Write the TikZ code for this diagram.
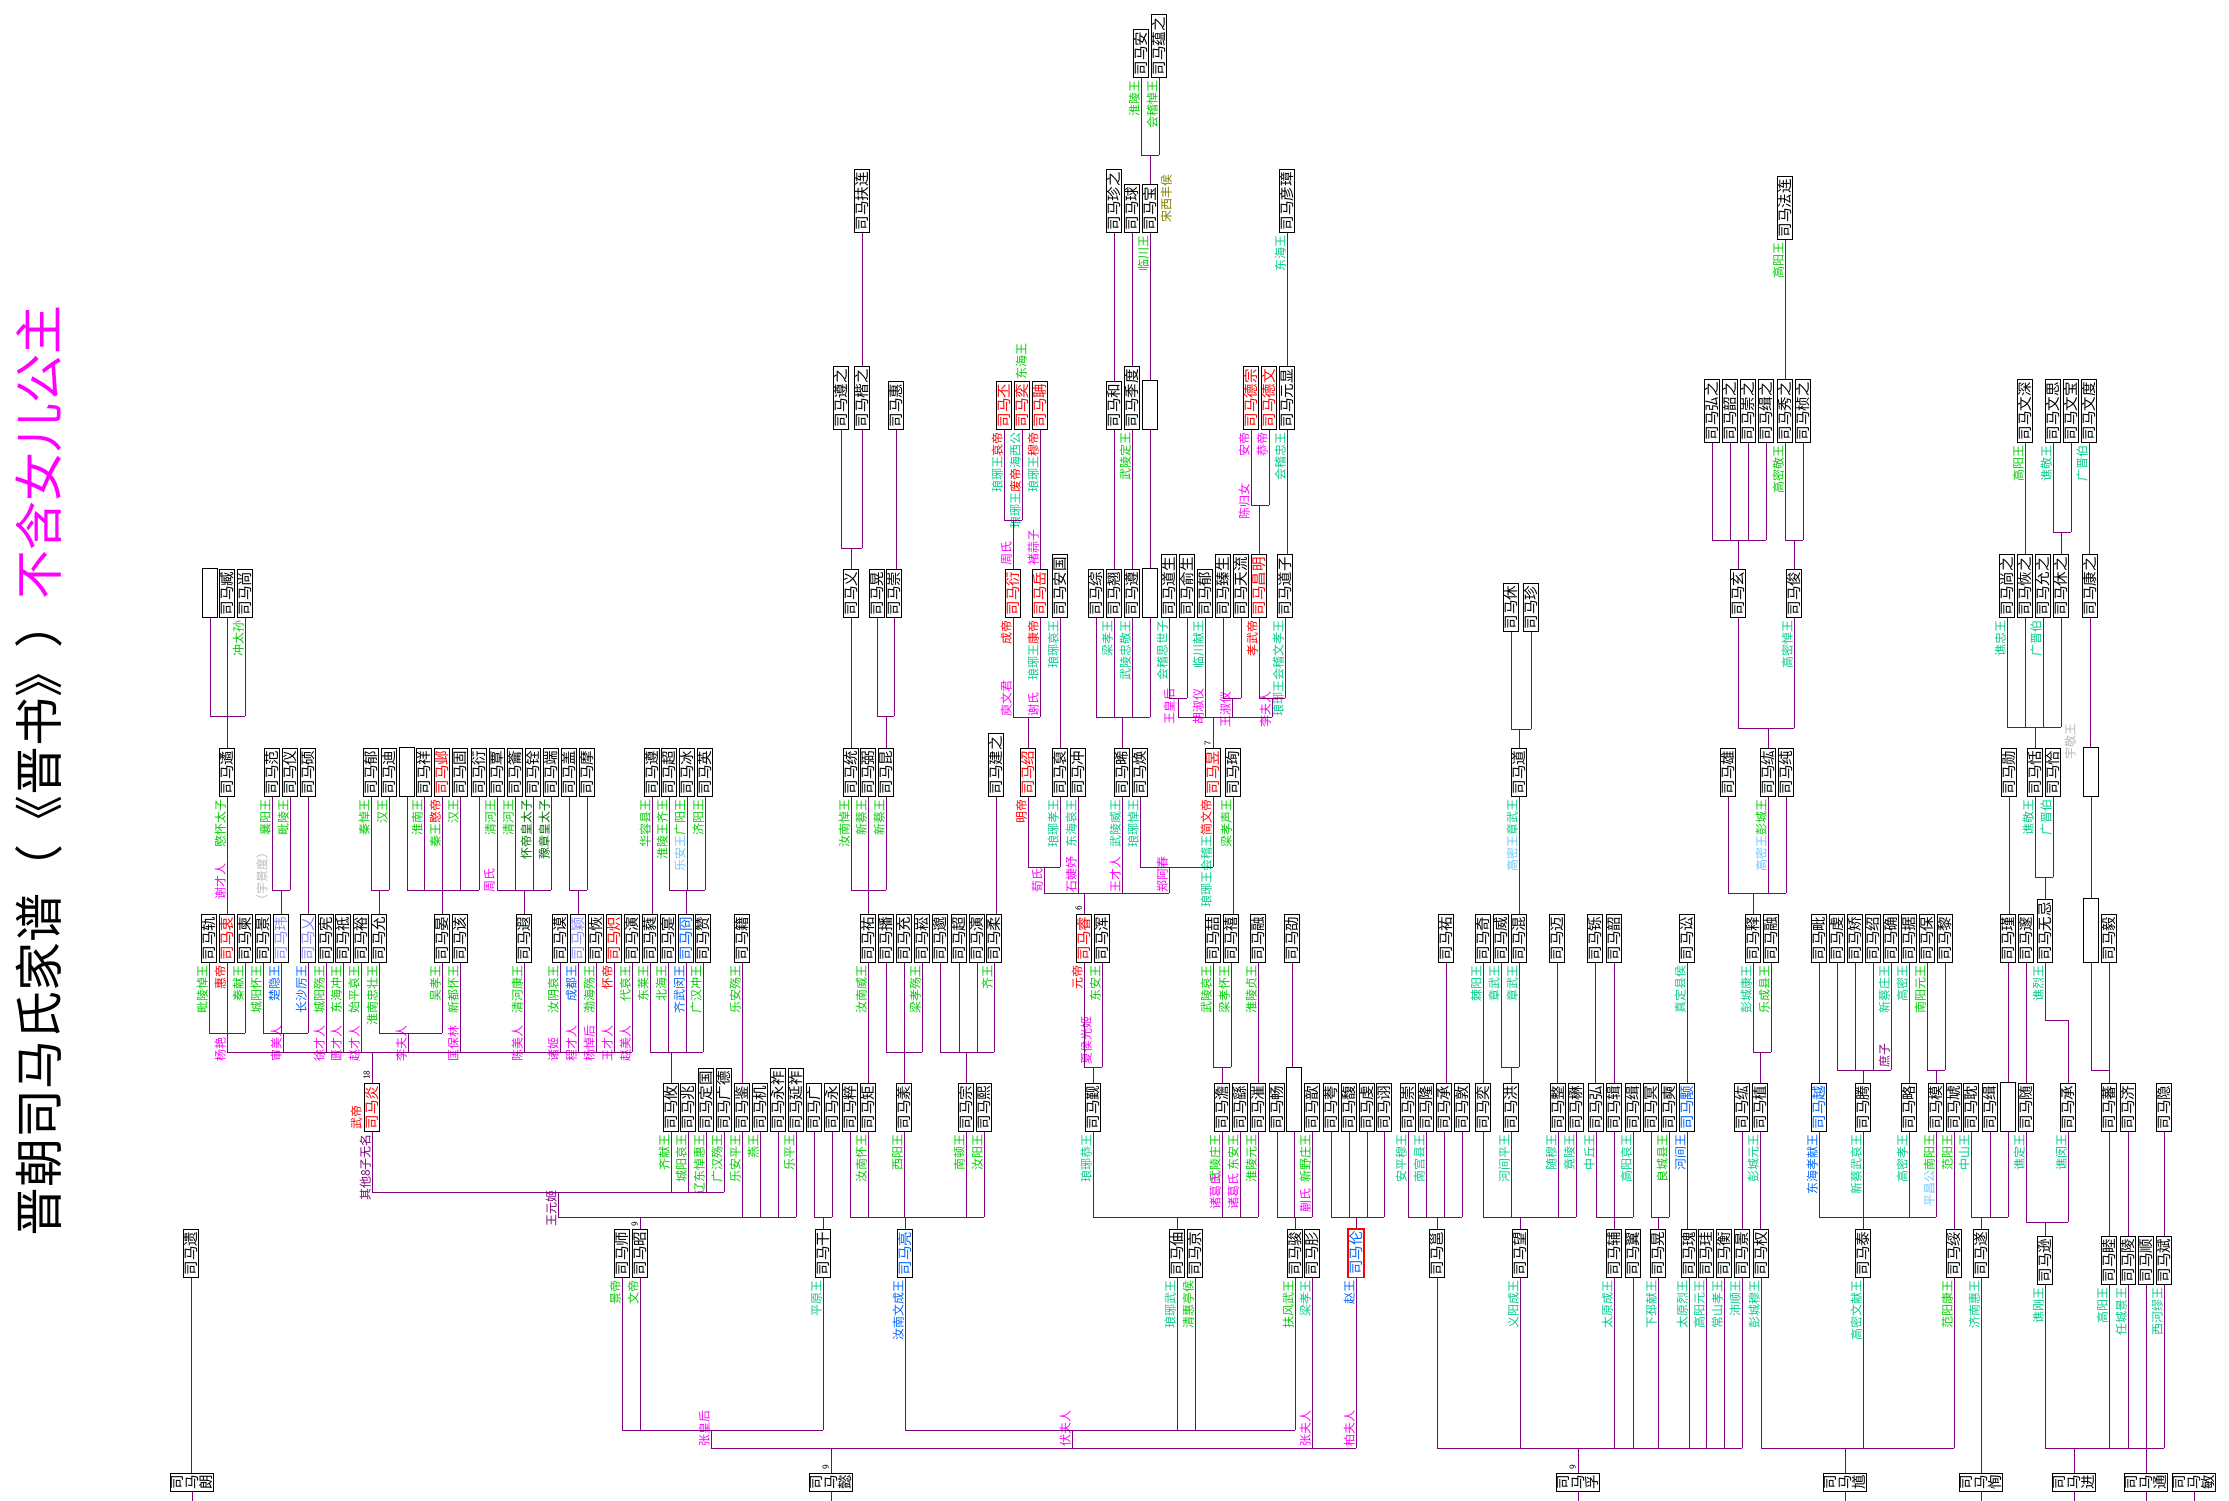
\documentclass[tikz,border=0pt]{standalone}
\usepackage{fontspec}
\newfontfamily\cjk{Noto Sans CJK SC}
\definecolor{lg}{RGB}{0,204,0}
\definecolor{tq}{RGB}{0,204,136}
\definecolor{bl}{RGB}{0,102,255}
\definecolor{rd}{RGB}{255,0,0}
\definecolor{mg}{RGB}{255,0,255}
\definecolor{pu}{RGB}{128,0,128}
\definecolor{lb}{RGB}{110,200,255}
\definecolor{gy}{RGB}{185,185,185}
\definecolor{ol}{RGB}{128,128,0}
\definecolor{dg}{RGB}{0,110,0}
\definecolor{lp}{RGB}{140,140,255}
\newcounter{lc}
\tikzset{
 nm/.style={draw=black,line width=0.9pt,fill=white,rotate=90,anchor=west,inner xsep=2.5pt,inner ysep=0.5pt,text height=12.4pt,text depth=2.4pt,font=\cjk\fontsize{14.5}{14.5}\selectfont},
 root/.style={draw=black,line width=0.9pt,fill=white,rotate=90,anchor=east,align=center,inner xsep=1.5pt,inner ysep=0.5pt,font=\cjk\fontsize{14.5}{14.5}\selectfont},
 lab/.style={rotate=90,anchor=south east,inner sep=0pt,font=\cjk\fontsize{12}{12}\selectfont},
 ln/.style={draw=pu,line width=1pt}
}
\newcommand\nb[4][black]{\node[nm,text=#1] (#2) at #3 {司马#4};}
\newcommand\eb[3]{\node[nm,minimum width=#3] (#1) at #2 {};}
\newcommand\lab[3]{\stepcounter{lc}\node[lab,text=#2] (lab\arabic{lc}) at ([xshift=-1pt,yshift=-2pt]#1.west) {#3};}
\newcommand\spl[4]{\stepcounter{lc}\node[lab,anchor=south west,text=#1] (lab\arabic{lc}) at (#2,#3) {#4};}
\newcommand\nlab[3]{\stepcounter{lc}\node[rotate=90,anchor=south west,inner sep=0pt,font=\sffamily\fontsize{9}{9}\selectfont] (lab\arabic{lc}) at (#1,#2) {#3};}
\newcommand\drops[2]{\foreach \q in {#2}{\draw[ln] (\q.west) -- (\q.west |- 0,#1);}}
\newcommand\hl[3]{\draw[ln] (#1.west |- 0,#3) -- (#2.west |- 0,#3);}
\newcommand\up[2]{\draw[ln] (#1.east |- 0,#2) -- (#1.east);}
\newcommand\stl[2]{\draw[ln] (#1.west) -- (#1.west |- #2.east);}
\begin{document}
\begin{tikzpicture}[x=1pt,y=-1pt]
\fill[white] (0,0) rectangle (2229,1500);
\path[use as bounding box] (0,0) rectangle (2229,1500);
% title
\node[rotate=90,anchor=west,inner sep=0pt,font=\cjk\fontsize{49}{49}\selectfont] (title) at (39,1237) {晋朝司马氏家谱（《晋书》）\textcolor{mg}{不含女儿公主}};
% roots
\node[root] (r1) at (192,1473) {司\\马\\朗};
\node[root] (r2) at (831,1473) {司\\马\\懿};
\node[root] (r3) at (1578,1473) {司\\马\\孚};
\node[root] (r4) at (1845,1473) {司\\马\\馗};
\node[root] (r5) at (1981,1473) {司\\马\\恂};
\node[root] (r6) at (2074,1473) {司\\马\\进};
\node[root] (r7) at (2146,1473) {司\\马\\通};
\node[root] (r8) at (2194,1473) {司\\马\\敏};
% row 1
\nb{a1}{(191,1278)}{遗}
\nb{a2}{(622,1278)}{师} \lab{a2}{lg}{景帝}
\nb{a3}{(640,1278)}{昭} \lab{a3}{lg}{文帝}
\nb{a4}{(823,1278)}{干} \lab{a4}{tq}{平原王}
\nb[bl]{a5}{(905,1278)}{亮} \lab{a5}{bl}{汝南文成王}
\nb{a6}{(1177,1278)}{伷} \lab{a6}{tq}{琅琊武王}
\nb{a7}{(1195,1278)}{京} \lab{a7}{lg}{清惠亭侯}
\nb{a8}{(1295,1278)}{骏} \lab{a8}{lg}{扶风武王}
\nb{a9}{(1312,1278)}{肜} \lab{a9}{tq}{梁孝王}
\node[nm,text=bl,draw=rd,line width=1.3pt] (a10) at (1356,1278) {司马伦}; \lab{a10}{bl}{赵王}
\nb{a11}{(1437,1278)}{邕}
\nb{a12}{(1520,1278)}{望} \lab{a12}{tq}{义阳成王}
\nb{a13}{(1614,1278)}{辅} \lab{a13}{tq}{太原成王}
\nb{a14}{(1633,1278)}{翼}
\nb{a15}{(1658,1278)}{晃} \lab{a15}{tq}{下邳献王}
\nb{a16}{(1689,1278)}{瑰} \lab{a16}{tq}{太原烈王}
\nb{a17}{(1706,1278)}{珪} \lab{a17}{tq}{高阳元王}
\nb{a18}{(1724,1278)}{衡} \lab{a18}{tq}{常山孝王}
\nb{a19}{(1742,1278)}{景} \lab{a19}{tq}{沛顺王}
\nb{a20}{(1761,1278)}{权} \lab{a20}{tq}{彭城穆王}
\nb{a21}{(1863,1278)}{泰} \lab{a21}{tq}{高密文献王}
\nb{a22}{(1954,1278)}{绥} \lab{a22}{lg}{范阳康王}
\nb{a23}{(1981,1278)}{遂} \lab{a23}{tq}{济南惠王}
\nb{a24}{(2045,1285)}{逊} \lab{a24}{tq}{谯刚王}
\nb{a25}{(2109,1285)}{睦} \lab{a25}{tq}{高阳王}
\nb{a26}{(2128,1285)}{陵} \lab{a26}{tq}{任城景王}
\nb{a27}{(2146,1285)}{顺}
\nb{a28}{(2164,1285)}{斌} \lab{a28}{tq}{西河缪王}
% row 2
\nb[rd]{b1}{(372,1132)}{炎} \lab{b1}{pu}{其他8子无名}
\spl{rd}{362}{1130}{武帝}
\nb{b2}{(671,1132)}{攸} \lab{b2}{lg}{齐献王}
\nb{b3}{(688,1132)}{兆} \lab{b3}{lg}{城阳哀王}
\nb{b4}{(706,1132)}{定国} \lab{b4}{lg}{辽东悼惠王}
\nb{b5}{(724,1132)}{广德} \lab{b5}{lg}{广汉殇王}
\nb{b6}{(742,1132)}{鉴} \lab{b6}{lg}{乐安平王}
\nb{b7}{(760,1132)}{机} \lab{b7}{lg}{燕王}
\nb{b8}{(778,1132)}{永祚}
\nb{b9}{(796,1132)}{延祚} \lab{b9}{lg}{乐平王}
\nb{b10}{(814,1132)}{广}
\nb{b11}{(832,1132)}{永}
\nb{b12}{(850,1132)}{粹}
\nb{b13}{(868,1132)}{矩} \lab{b13}{lg}{汝南怀王}
\nb{b14}{(904,1132)}{羕} \lab{b14}{lg}{西阳王}
\nb{b15}{(966,1132)}{宗} \lab{b15}{lg}{南顿王}
\nb{b16}{(984,1132)}{熙} \lab{b16}{lg}{汝阳王}
\nb{b17}{(1093,1132)}{觐} \lab{b17}{tq}{琅琊恭王}
\nb{b18}{(1222,1132)}{澹} \lab{b18}{lg}{武陵庄王}
\nb{b19}{(1240,1132)}{繇} \lab{b19}{lg}{东安王}
\nb{b20}{(1258,1132)}{漼} \lab{b20}{lg}{淮陵元王}
\nb{b21}{(1277,1132)}{畅}
\eb{b22}{(1294,1132)}{64pt}
\nb{b23}{(1312,1132)}{歆} \lab{b23}{lg}{新野庄王}
\nb{b24}{(1331,1132)}{荂}
\nb{b25}{(1349,1132)}{馥}
\nb{b26}{(1367,1132)}{虔}
\nb{b27}{(1384,1132)}{诩}
\nb{b28}{(1408,1132)}{崇} \lab{b28}{tq}{安平穆王}
\nb{b29}{(1426,1132)}{隆} \lab{b29}{tq}{南宫县王}
\nb{b30}{(1444,1132)}{承}
\nb{b31}{(1462,1132)}{敦}
\nb{b32}{(1483,1132)}{奕}
\nb{b33}{(1511,1132)}{洪} \lab{b33}{tq}{河间平王}
\nb{b34}{(1558,1132)}{整} \lab{b34}{tq}{随穆王}
\nb{b35}{(1576,1132)}{楙} \lab{b35}{tq}{竟陵王}
\nb{b36}{(1596,1132)}{弘} \lab{b36}{tq}{中丘王}
\nb{b37}{(1614,1132)}{辑}
\nb{b38}{(1633,1132)}{缉} \lab{b38}{tq}{高阳哀王}
\nb{b39}{(1651,1132)}{冥}
\nb{b40}{(1669,1132)}{奭} \lab{b40}{lg}{良城县王}
\nb[bl]{b41}{(1687,1132)}{颙} \lab{b41}{bl}{河间王}
\nb{b42}{(1742,1132)}{纮}
\nb{b43}{(1760,1132)}{植} \lab{b43}{tq}{彭城元王}
\nb[bl]{b44}{(1819,1132)}{越} \lab{b44}{bl}{东海孝献王}
\nb{b45}{(1863,1132)}{腾} \lab{b45}{tq}{新蔡武哀王}
\nb{b46}{(1909,1132)}{略} \lab{b46}{tq}{高密孝王}
\nb{b47}{(1936,1132)}{模} \lab{b47}{lg}{{\color{lb}平昌公}南阳王}
\nb{b48}{(1954,1132)}{虓} \lab{b48}{lg}{范阳王}
\nb{b49}{(1971,1132)}{耽} \lab{b49}{tq}{中山王}
\nb{b50}{(1990,1132)}{缉}
\eb{b51}{(2008,1132)}{49pt}
\nb{b52}{(2026,1132)}{随} \lab{b52}{tq}{谯定王}
\nb{b53}{(2068,1132)}{承} \lab{b53}{tq}{谯闵王}
\nb{b54}{(2109,1132)}{蕃}
\nb{b55}{(2128,1132)}{济}
\nb{b56}{(2164,1132)}{隐}
% row 3
\nb{c1}{(209,963)}{轨} \lab{c1}{lg}{毗陵悼王}
\nb[rd]{c2}{(227,963)}{衷} \lab{c2}{rd}{惠帝}
\nb{c3}{(245,963)}{柬} \lab{c3}{lg}{秦献王}
\nb{c4}{(263,963)}{景} \lab{c4}{lg}{城阳怀王}
\nb[lp]{c5}{(281,963)}{玮} \lab{c5}{bl}{楚隐王}
\nb[lp]{c6}{(308,963)}{乂} \lab{c6}{bl}{长沙厉王}
\nb{c7}{(326,963)}{宪} \lab{c7}{lg}{城阳殇王}
\nb{c8}{(343,963)}{祗} \lab{c8}{lg}{东海冲王}
\nb{c9}{(361,963)}{裕} \lab{c9}{lg}{始平哀王}
\nb{c10}{(379,963)}{允} \lab{c10}{lg}{淮南忠壮王}
\nb{c11}{(442,963)}{晏} \lab{c11}{lg}{吴孝王}
\nb{c12}{(460,963)}{该} \lab{c12}{lg}{新都怀王}
\nb{c13}{(524,963)}{遐} \lab{c13}{lg}{清河康王}
\nb{c14}{(560,963)}{谟} \lab{c14}{lg}{汝阴哀王}
\nb[lp]{c15}{(578,963)}{颖} \lab{c15}{bl}{成都王}
\nb{c16}{(596,963)}{恢} \lab{c16}{lg}{渤海殇王}
\nb[rd]{c17}{(614,963)}{炽} \lab{c17}{rd}{怀帝}
\nb{c18}{(632,963)}{演} \lab{c18}{lg}{代哀王}
\nb{c19}{(650,963)}{蕤} \lab{c19}{lg}{东莱王}
\nb{c20}{(668,963)}{寔} \lab{c20}{lg}{北海王}
\nb[bl]{c21}{(686,963)}{冏} \lab{c21}{bl}{齐武闵王}
\nb{c22}{(703,963)}{赞} \lab{c22}{lg}{广汉冲王}
\nb{c23}{(742,963)}{籍} \lab{c23}{lg}{乐安殇王}
\nb{c24}{(868,963)}{祐} \lab{c24}{lg}{汝南威王}
\nb{c25}{(886,963)}{播}
\nb{c26}{(904,963)}{充}
\nb{c27}{(922,963)}{崧} \lab{c27}{lg}{梁孝殇王}
\nb{c28}{(940,963)}{邈}
\nb{c29}{(959,963)}{超}
\nb{c30}{(977,963)}{演}
\nb{c31}{(994,963)}{柔} \lab{c31}{lg}{齐王}
\nb[rd]{c32}{(1084,963)}{睿} \lab{c32}{rd}{元帝}
\nb{c33}{(1102,963)}{浑} \lab{c33}{lg}{东安王}
\nb{c34}{(1213,963)}{喆} \lab{c34}{lg}{武陵哀王}
\nb{c35}{(1231,963)}{禧} \lab{c35}{lg}{梁孝怀王}
\nb{c36}{(1258,963)}{融} \lab{c36}{lg}{淮陵贞王}
\nb{c37}{(1292,963)}{劭}
\nb{c38}{(1446,963)}{祐}
\nb{c39}{(1483,963)}{奇} \lab{c39}{tq}{棘阳王}
\nb{c40}{(1501,963)}{威} \lab{c40}{tq}{章武王}
\nb{c41}{(1519,963)}{混} \lab{c41}{tq}{章武王}
\nb{c42}{(1557,963)}{迈}
\nb{c43}{(1595,963)}{铄}
\nb{c44}{(1614,963)}{韶}
\nb{c45}{(1687,963)}{讼} \lab{c45}{tq}{真定县侯}
\nb{c46}{(1753,963)}{释} \lab{c46}{tq}{彭城康王}
\nb{c47}{(1771,963)}{融} \lab{c47}{lg}{乐成县王}
\nb{c48}{(1819,963)}{毗}
\nb{c49}{(1837,963)}{虔}
\nb{c50}{(1855,963)}{矫}
\nb{c51}{(1873,963)}{绍}
\nb{c52}{(1891,963)}{确} \lab{c52}{tq}{新蔡庄王}
\nb{c53}{(1909,963)}{据} \lab{c53}{tq}{高密王}
\nb{c54}{(1927,963)}{保} \lab{c54}{lg}{南阳元王}
\nb{c55}{(1945,963)}{黎}
\nb{c56}{(2008,963)}{瑾}
\nb{c57}{(2026,963)}{邃}
\nb{c58}{(2045,963)}{无忌} \lab{c58}{tq}{谯烈王}
\eb{c59}{(2091,963)}{64pt}
\nb{c60}{(2109,963)}{毅}
% row 4
\nb{d1}{(227,797)}{遹} \lab{d1}{lg}{愍怀太子}
\nb{d2}{(272,797)}{范} \lab{d2}{lg}{襄阳王}
\nb{d3}{(290,797)}{仪} \lab{d3}{lg}{毗陵王}
\nb{d4}{(308,797)}{硕}
\nb{d5}{(371,797)}{郁} \lab{d5}{lg}{秦悼王}
\nb{d6}{(389,797)}{迪} \lab{d6}{lg}{汉王}
\eb{d7}{(407,797)}{49pt}
\nb{d8}{(424,797)}{祥} \lab{d8}{lg}{淮南王}
\nb[rd]{d9}{(442,797)}{邺} \lab{d9}{lg}{秦王\color{rd}愍帝}
\nb{d10}{(460,797)}{固} \lab{d10}{lg}{汉王}
\nb{d11}{(479,797)}{衍}
\nb{d12}{(497,797)}{覃} \lab{d12}{lg}{清河王}
\nb{d13}{(515,797)}{籥} \lab{d13}{lg}{清河王}
\nb{d14}{(533,797)}{铨} \lab{d14}{dg}{怀帝皇太子}
\nb{d15}{(551,797)}{端} \lab{d15}{dg}{豫章皇太子}
\nb{d16}{(569,797)}{盖}
\nb{d17}{(587,797)}{摩}
\nb{d18}{(652,797)}{遵} \lab{d18}{lg}{华容县王}
\nb{d19}{(669,797)}{超} \lab{d19}{lg}{淮陵王齐王}
\nb{d20}{(687,797)}{冰} \lab{d20}{lg}{{\color{lb}乐安王}广阳王}
\nb{d21}{(705,797)}{英} \lab{d21}{lg}{济阳王}
\nb{d22}{(851,797)}{统} \lab{d22}{lg}{汝南悼王}
\nb{d23}{(868,797)}{弼} \lab{d23}{lg}{新蔡王}
\nb{d24}{(886,797)}{昆} \lab{d24}{lg}{新蔡王}
\nb{d25}{(996,797)}{建之}
\nb[rd]{d26}{(1028,797)}{绍} \lab{d26}{rd}{明帝}
\nb{d27}{(1060,797)}{裒} \lab{d27}{tq}{琅琊孝王}
\nb{d28}{(1078,797)}{冲} \lab{d28}{tq}{东海哀王}
\nb{d29}{(1122,797)}{晞} \lab{d29}{tq}{武陵威王}
\nb{d30}{(1140,797)}{焕} \lab{d30}{tq}{琅琊悼王}
\nb[rd]{d31}{(1213,797)}{昱} \lab{d31}{tq}{琅琊王会稽王\color{rd}简文帝}
\nb{d32}{(1233,797)}{珣} \lab{d32}{lg}{梁孝声王}
\nb{d33}{(1519,797)}{道} \lab{d33}{tq}{{\color{lb}高密王}章武王}
\nb{d34}{(1728,797)}{雄}
\nb{d35}{(1768,797)}{纮} \lab{d35}{lg}{{\color{lb}高密王}彭城王}
\nb{d36}{(1786,797)}{纯}
\nb{d37}{(2009,797)}{勋}
\nb{d38}{(2035,797)}{恬} \lab{d38}{tq}{谯敬王}
\nb{d39}{(2053,797)}{恰} \lab{d39}{tq}{广晋伯}
\eb{d40}{(2091,797)}{49pt}
% row 5
\eb{e1}{(210,618)}{49pt}
\nb{e2}{(227,618)}{臧}
\nb{e3}{(245,618)}{尚} \lab{e3}{lg}{冲太孙}
\nb{e4}{(851,618)}{义}
\nb{e5}{(877,618)}{晃}
\nb{e6}{(894,618)}{崇}
\nb[rd]{e7}{(1013,618)}{衍} \lab{e7}{rd}{成帝}
\nb[rd]{e8}{(1040,618)}{岳} \lab{e8}{tq}{琅琊王\color{rd}康帝}
\nb{e9}{(1060,618)}{安国} \lab{e9}{tq}{琅琊哀王}
\nb{e10}{(1096,618)}{综}
\nb{e11}{(1114,618)}{翘} \lab{e11}{tq}{梁孝王}
\nb{e12}{(1132,618)}{遵} \lab{e12}{tq}{武陵忠敬王}
\eb{e13}{(1150,618)}{49pt}
\nb{e14}{(1169,618)}{道生} \lab{e14}{tq}{会稽思世子}
\nb{e15}{(1187,618)}{俞生}
\nb{e16}{(1205,618)}{郁} \lab{e16}{tq}{临川献王}
\nb{e17}{(1223,618)}{臻生}
\nb{e18}{(1241,618)}{天流}
\nb[rd]{e19}{(1259,618)}{昌明} \lab{e19}{rd}{孝武帝}
\nb{e20}{(1285,618)}{道子} \lab{e20}{tq}{琅琊王会稽文孝王}
\nb{e21}{(1511,632)}{休}
\nb{e22}{(1531,632)}{珍}
\nb{e23}{(1738,618)}{玄}
\nb{e24}{(1794,618)}{俊} \lab{e24}{tq}{高密悼王}
\nb{e25}{(2007,618)}{尚之} \lab{e25}{tq}{谯忠王}
\nb{e26}{(2025,618)}{恢之}
\nb{e27}{(2043,618)}{允之} \lab{e27}{tq}{广晋伯}
\nb{e28}{(2061,618)}{休之}
\nb{e29}{(2090,618)}{康之}
% row 6
\nb{f1}{(841,430)}{遵之}
\nb{f2}{(862,430)}{楷之}
\nb{f3}{(896,430)}{惠}
\nb[rd]{f4}{(1004,430)}{丕} \lab{f4}{tq}{琅琊王\color{rd}哀帝}
\nb[rd]{f5}{(1022,430)}{奕} \lab{f5}{tq}{琅琊王\color{rd}废帝\color{tq}海西公}
\nb[rd]{f6}{(1040,430)}{聃} \lab{f6}{tq}{琅琊王\color{rd}穆帝}
\nb{f7}{(1114,430)}{和}
\nb{f8}{(1132,430)}{季度} \lab{f8}{lg}{武陵定王}
\eb{f9}{(1150,430)}{49pt}
\nb[rd]{f10}{(1251,430)}{德宗} \lab{f10}{mg}{安帝}
\nb[rd]{f11}{(1269,430)}{德文} \lab{f11}{mg}{恭帝}
\nb{f12}{(1287,430)}{元显} \lab{f12}{tq}{会稽忠王}
\nb{f13}{(1712,443)}{弘之}
\nb{f14}{(1730,443)}{韶之}
\nb{f15}{(1748,443)}{崇之}
\nb{f16}{(1766,443)}{缉之}
\nb{f17}{(1785,443)}{秀之} \lab{f17}{lg}{高密敬王}
\nb{f18}{(1803,443)}{桢之}
\nb{f19}{(2025,443)}{文深} \lab{f19}{lg}{高阳王}
\nb{f20}{(2053,443)}{文思} \lab{f20}{tq}{谯敬王}
\nb{f21}{(2071,443)}{文宝}
\nb{f22}{(2089,443)}{文度} \lab{f22}{tq}{广晋伯}
% row 7
\nb{g1}{(862,233)}{扶连}
\nb{g2}{(1114,233)}{珍之}
\nb{g3}{(1132,233)}{球}
\nb{g4}{(1150,233)}{宝} \lab{g4}{lg}{临川王}
\nb{g5}{(1287,233)}{彦璋} \lab{g5}{tq}{东海王}
\nb{g6}{(1785,240)}{法连} \lab{g6}{lg}{高阳王}
% row 8
\nb{h1}{(1141,78)}{安} \lab{h1}{lg}{淮陵王}
\nb{h2}{(1159,78)}{蕴之} \lab{h2}{lg}{会稽悼王}
% free labels
\spl{ol}{1172}{223}{宋西丰侯}
\spl{lg}{1027}{380}{东海王}
\spl{gy}{268}{907}{（宇景度）}
\spl{gy}{2076}{760}{宇敬王}
\spl{pu}{1890}{1068}{庶子}
\spl{pu}{557}{1227}{王元姬}
\spl{mg}{710}{1447}{张皇后}
\spl{mg}{1071}{1447}{伏夫人}
\spl{mg}{1311}{1447}{张夫人}
\spl{mg}{1355}{1447}{柏夫人}
\spl{mg}{1221}{1210}{诸葛氏}
\spl{mg}{1239}{1210}{诸葛氏}
\spl{mg}{1311}{1213}{蒯氏}
\spl{mg}{1092}{1065}{夏侯光姬}
\spl{mg}{226}{1062}{杨艳}
\spl{mg}{282}{1062}{审美人}
\spl{mg}{325}{1062}{徐才人}
\spl{mg}{342}{1062}{匮才人}
\spl{mg}{360}{1062}{赵才人}
\spl{mg}{407}{1062}{李夫人}
\spl{mg}{459}{1062}{匡保林}
\spl{mg}{523}{1062}{陈美人}
\spl{mg}{559}{1062}{诸姬}
\spl{mg}{577}{1062}{程才人}
\spl{mg}{595}{1062}{杨悼后}
\spl{mg}{613}{1062}{王才人}
\spl{mg}{631}{1062}{赵美人}
\spl{mg}{226}{900}{谢才人}
\spl{mg}{495}{893}{周氏}
\spl{mg}{1043}{893}{荀氏}
\spl{mg}{1077}{893}{石婕妤}
\spl{mg}{1121}{893}{王才人}
\spl{mg}{1168}{893}{郑阿春}
\spl{mg}{1012}{717}{庾文君}
\spl{mg}{1039}{717}{谢氏}
\spl{mg}{1175}{725}{王皇后}
\spl{mg}{1204}{725}{胡淑仪}
\spl{mg}{1231}{728}{王淑仪}
\spl{mg}{1271}{728}{李夫人}
\spl{mg}{1012}{566}{周氏}
\spl{mg}{1039}{566}{褚蒜子}
\spl{mg}{1250}{520}{陈归女}
\nlab{829}{1470}{9}
\nlab{638}{1227}{9}
\nlab{370}{1080}{18}
\nlab{1576}{1470}{9}
\nlab{1082}{911}{6}
\nlab{1211}{746}{7}
% ===== connectors =====
\foreach \q in {r1,r2,r3,r4,r5,r6,r7,r8}{\draw[ln] (\q.west) -- (\q.west |- 0,1502);}
\stl{a1}{r1}
\drops{1430}{a2,a3,a4} \hl{a2}{a4}{1430}
\draw[ln] (711,1430) -- (711,1448);
\drops{1430}{a5,a6,a7,a8} \hl{a5}{a8}{1430}
\draw[ln] (1072,1430) -- (1072,1448);
\drops{1448}{a9,a10}
\draw[ln] (711,1448) -- (a10.west |- 0,1448);
\up{r2}{1448}
\drops{1448}{a11,a12,a13,a14,a15,a16,a17,a18,a19} \hl{a11}{a19}{1448} \up{r3}{1448}
\drops{1448}{a20,a21,a22} \hl{a20}{a22}{1448} \up{r4}{1448}
\stl{a23}{r5}
\drops{1448}{a24,a25,a26,a27,a28} \hl{a24}{a28}{1448} \up{r6}{1448} \up{r7}{1448}
% row2 -> row1
\drops{1192}{b1,b2,b3,b4,b5} \hl{b1}{b5}{1192}
\draw[ln] (558,1192) -- (558,1217);
\drops{1217}{b6,b7,b8,b9}
\draw[ln] (558,1217) -- (b9.west |- 0,1217);
\up{a3}{1217}
\drops{1217}{b10,b11} \hl{b10}{b11}{1217} \up{a4}{1217}
\drops{1217}{b12,b13,b14,b15,b16} \hl{b12}{b16}{1217} \up{a5}{1217}
\drops{1217}{b17,b18,b19,b20} \hl{b17}{b20}{1217} \up{a6}{1217}
\drops{1217}{b21,b22,b23} \hl{b21}{b23}{1217} \up{a8}{1217}
\drops{1217}{b24,b25,b26,b27} \hl{b24}{b27}{1217} \up{a10}{1217}
\drops{1217}{b28,b29,b30,b31} \hl{b28}{b31}{1217} \up{a11}{1217}
\drops{1217}{b32,b33,b34,b35} \hl{b32}{b35}{1217} \up{a12}{1217}
\drops{1217}{b36,b37,b38} \hl{b36}{b38}{1217} \up{a13}{1217}
\drops{1217}{b39,b40} \hl{b39}{b40}{1217} \up{a15}{1217}
\stl{b41}{a16} \stl{b42}{a19} \stl{b43}{a20}
\drops{1217}{b44,b45,b46,b47} \hl{b44}{b47}{1217} \up{a21}{1217}
\stl{b48}{a22}
\drops{1217}{b49,b50,b51} \hl{b49}{b51}{1217} \up{a23}{1217}
\drops{1222}{b52,b53} \hl{b52}{b53}{1222} \up{a24}{1222}
\stl{b54}{a25} \stl{b55}{a26} \stl{b56}{a28}
% row3 -> row2
\drops{1033}{c1,c3} \hl{c1}{c3}{1033} \drops{1052}{c2}
\drops{1033}{c4,c5,c6} \hl{c4}{c6}{1033} \draw[ln] (283,1033) -- (283,1052);
\drops{1052}{c7,c8,c9}
\drops{1033}{c10,c11} \hl{c10}{c11}{1033} \draw[ln] (408,1033) -- (408,1052);
\drops{1052}{c12,c13,c14,c15,c16,c17,c18}
\draw[ln] (c2.west |- 0,1052) -- (c18.west |- 0,1052);
\up{b1}{1052}
\drops{1052}{c19,c20,c21,c22} \hl{c19}{c22}{1052} \up{b2}{1052}
\stl{c23}{b6} \stl{c24}{b13}
\drops{1052}{c25,c26,c27} \hl{c25}{c27}{1052} \up{b14}{1052}
\drops{1052}{c28,c29,c30,c31} \hl{c28}{c31}{1052} \up{b15}{1052}
\drops{1067}{c32,c33} \hl{c32}{c33}{1067} \up{b17}{1067}
\drops{1067}{c34,c35} \hl{c34}{c35}{1067} \up{b18}{1067}
\stl{c36}{b20} \stl{c37}{b22} \stl{c38}{b30} \stl{c39}{b32}
\drops{1067}{c40,c41} \hl{c40}{c41}{1067} \up{b33}{1067}
\stl{c42}{b34} \stl{c43}{b36} \stl{c44}{b37} \stl{c45}{b41}
\drops{1052}{c46,c47} \hl{c46}{c47}{1052} \up{b43}{1052}
\stl{c48}{b44}
\drops{1070}{c49,c50,c51,c52} \hl{c49}{c52}{1070} \up{b45}{1070}
\stl{c53}{b46}
\drops{1070}{c54,c55} \hl{c54}{c55}{1070} \up{b47}{1070}
\stl{c56}{b51} \stl{c57}{b52}
\draw[ln] (c58.west) |- (b53.east |- 0,1020) -- (b53.east);
\drops{1070}{c59,c60} \hl{c59}{c60}{1070} \up{b54}{1070}
% row4 -> row3
\stl{d1}{c2}
\drops{890}{d2,d3} \hl{d2}{d3}{890} \up{c5}{890}
\stl{d4}{c6}
\drops{890}{d5,d6} \hl{d5}{d6}{890} \up{c10}{890}
\drops{890}{d7,d8,d9,d10,d11} \hl{d7}{d11}{890} \up{c11}{890}
\drops{890}{d12,d13,d14,d15} \hl{d12}{d15}{890} \up{c13}{890}
\drops{890}{d16,d17} \hl{d16}{d17}{890} \up{c15}{890}
\stl{d18}{c19}
\drops{890}{d19,d20,d21} \hl{d19}{d21}{890} \up{c21}{890}
\drops{890}{d22,d23,d24} \hl{d22}{d24}{890} \up{c24}{890}
\stl{d25}{c31}
\drops{867}{d26,d27} \hl{d26}{d27}{867} \draw[ln] (1044,867) -- (1044,893);
\drops{893}{d28,d29}
\drops{867}{d30,d31} \hl{d30}{d31}{867} \draw[ln] (1169,867) -- (1169,893);
\draw[ln] (1044,893) -- (1169,893);
\up{c32}{893}
\stl{d32}{c35} \stl{d33}{c41}
\drops{893}{d34,d35,d36} \hl{d34}{d36}{893} \up{c46}{893}
\stl{d37}{c56}
\drops{877}{d38,d39} \hl{d38}{d39}{877} \up{c58}{877}
\stl{d40}{c59}
% row5 -> row4
\drops{716}{e1,e2,e3} \hl{e1}{e3}{716} \up{d1}{716}
\stl{e4}{d22}
\drops{716}{e5,e6} \hl{e5}{e6}{716} \up{d24}{716}
\drops{717}{e7,e8} \hl{e7}{e8}{717} \up{d26}{717}
\stl{e9}{d27}
\drops{717}{e10,e11,e12,e13} \hl{e10}{e13}{717} \up{d29}{717}
\drops{698}{e14,e15} \hl{e14}{e15}{698} \draw[ln] (1178,698) -- (1178,717);
\drops{717}{e16}
\drops{698}{e17,e18} \hl{e17}{e18}{698} \draw[ln] (1232,698) -- (1232,717);
\drops{698}{e19,e20} \hl{e19}{e20}{698} \draw[ln] (1272,698) -- (1272,717);
\draw[ln] (1178,717) -- (1272,717);
\up{d31}{717}
\drops{729}{e21,e22} \hl{e21}{e22}{729} \up{d33}{729}
\drops{728}{e23,e24} \hl{e23}{e24}{728} \up{d35}{728}
\drops{727}{e25,e26,e27,e28} \hl{e25}{e28}{727} \up{d38}{727}
\stl{e29}{d40}
% row6 -> row5
\drops{548}{f1,f2} \hl{f1}{f2}{548} \up{e4}{548}
\stl{f3}{e6}
\drops{520}{f4,f5} \hl{f4}{f5}{520} \up{e7}{520}
\stl{f6}{e8}
\stl{f7}{e11} \stl{f8}{e12} \stl{f9}{e13}
\drops{505}{f10,f11} \hl{f10}{f11}{505} \up{e19}{505}
\stl{f12}{e20}
\drops{540}{f13,f14,f15,f16} \hl{f13}{f16}{540} \up{e23}{540}
\drops{540}{f17,f18} \hl{f17}{f18}{540} \up{e24}{540}
\stl{f19}{e26}
\drops{532}{f20,f21} \hl{f20}{f21}{532} \up{e28}{532}
\stl{f22}{e29}
% row7 -> row6
\stl{g1}{f2} \stl{g2}{f7} \stl{g3}{f8} \stl{g4}{f9} \stl{g5}{f12} \stl{g6}{f17}
% row8 -> row7
\drops{155}{h1,h2} \hl{h1}{h2}{155} \up{g4}{155}
\end{tikzpicture}
\end{document}
